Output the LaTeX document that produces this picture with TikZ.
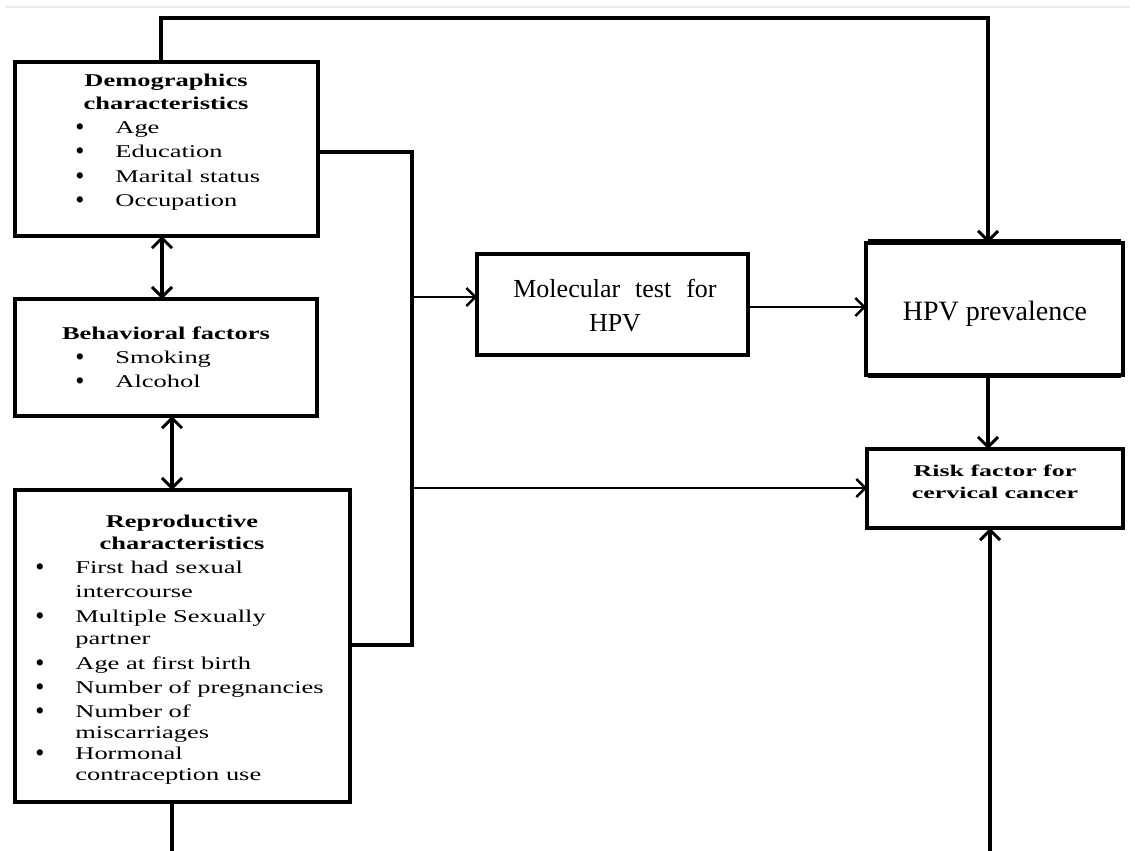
\documentclass[tikz,border=0pt]{standalone}
\usepackage{fontspec}
\setmainfont{Liberation Serif}
\newfontfamily\stfont[FakeStretch=1.47]{Liberation Serif}
\newfontfamily\rkfont[FakeStretch=1.58]{Liberation Serif}
\usetikzlibrary{arrows.meta}
\begin{document}
\begin{tikzpicture}[x=0.5pt,y=-0.5pt,
  box/.style={draw, line width=1.7pt, inner sep=0pt, outer sep=0pt},
  ln/.style={line width=1.7pt},
  varr/.style={line width=1.7pt, -{Straight Barb[length=5pt,width=10pt,line width=1.5pt]}},
  dbl/.style={line width=1.8pt, {Straight Barb[length=5pt,width=10pt,line width=1.5pt]}-{Straight Barb[length=5pt,width=10pt,line width=1.5pt]}},
  harr/.style={line width=1.3pt, -{Straight Barb[length=4.5pt,width=9pt,line width=1.2pt]}},
  item/.style={font=\stfont\fontsize{9}{11}\selectfont, inner sep=0pt, anchor=base west},
  bul/.style={font=\fontsize{13}{13}\selectfont, inner sep=0pt, anchor=base, yshift=-1.2pt},
  ttl/.style={font=\stfont\bfseries\fontsize{9}{11}\selectfont, inner sep=0pt, anchor=base},
  rk/.style={font=\rkfont\bfseries\fontsize{8.2}{10}\selectfont, inner sep=0pt, anchor=base},
  big/.style={font=\fontsize{13}{16}\selectfont, inner sep=0pt, anchor=base}
]
\useasboundingbox (0,0) rectangle (1135,851);
\draw[black!8, line width=0.8pt] (5,7) -- (1130,7);

% boxes
\node[box, minimum width=151.5pt, minimum height=87pt] (demo) at (166.5,149) {};
\node[box, minimum width=151pt, minimum height=58.5pt] (beh) at (166,357.5) {};
\node[box, minimum width=167.5pt, minimum height=156pt] (repro) at (182.5,646) {};
\node[box, line width=2.4pt, minimum width=135.5pt, minimum height=50.5pt] (mol) at (612.5,304.5) {};
\node[box, minimum width=128.5pt, minimum height=66pt] (hpv) at (994.5,309) {};
\node[box, minimum width=128pt, minimum height=39.5pt] (risk) at (995,488.5) {};
\draw[line width=0.8pt] (868,240) -- (1121,240);
\draw[line width=0.8pt] (868,377) -- (1121,377);

% demographics text
\node[ttl] (dt1) at (166,86) {Demographics};
\node[ttl] (dt2) at (166,109) {characteristics};
\node[bul] (db1) at (80,133) {\textbullet};
\node[item] (di1) at (115,133) {Age};
\node[bul] (db2) at (80,157) {\textbullet};
\node[item] (di2) at (115,157) {Education};
\node[bul] (db3) at (80,182) {\textbullet};
\node[item] (di3) at (115,182) {Marital status};
\node[bul] (db4) at (80,206) {\textbullet};
\node[item] (di4) at (115,206) {Occupation};

% behavioral text
\node[ttl] (bt1) at (166,339) {Behavioral factors};
\node[bul] (bb1) at (80,363) {\textbullet};
\node[item] (bi1) at (115,363) {Smoking};
\node[bul] (bb2) at (80,387) {\textbullet};
\node[item] (bi2) at (115,387) {Alcohol};

% reproductive text
\node[ttl] (rt1) at (182,527) {Reproductive};
\node[ttl] (rt2) at (182,549) {characteristics};
\node[bul] (rb1) at (40,573) {\textbullet};
\node[item] (ri1) at (75,573) {First had sexual};
\node[item] (ri1b) at (75,597) {intercourse};
\node[bul] (rb2) at (40,622) {\textbullet};
\node[item] (ri2) at (75,622) {Multiple Sexually};
\node[item] (ri2b) at (75,644) {partner};
\node[bul] (rb3) at (40,669) {\textbullet};
\node[item] (ri3) at (75,669) {Age at first birth};
\node[bul] (rb4) at (40,693) {\textbullet};
\node[item] (ri4) at (75,693) {Number of pregnancies};
\node[bul] (rb5) at (40,717) {\textbullet};
\node[item] (ri5) at (75,717) {Number of};
\node[item] (ri5b) at (75,738) {miscarriages};
\node[bul] (rb6) at (40,759) {\textbullet};
\node[item] (ri6) at (75,759) {Hormonal};
\node[item] (ri6b) at (75,780) {contraception use};

% right texts
\node[big] (mt1) at (615,297) {Molecular\hspace{7.5pt}test\hspace{7.5pt}for};
\node[big] (mt2) at (615,331) {HPV};
\node[big, font=\fontsize{14}{17}\selectfont] (ht) at (995,320) {HPV prevalence};
\node[rk] (rk1) at (995,476) {Risk factor for};
\node[rk] (rk2) at (995,498) {cervical cancer};

% connectors
\coordinate (tl) at (161,18);
\coordinate (tr) at (988,18);
\draw[varr] (demo.north -| tl) -- (tl) -- (tr) -- (hpv.north -| tr);
\coordinate (a1) at (162,0);
\draw[dbl] (demo.south -| a1) -- (beh.north -| a1);
\coordinate (a2) at (172,0);
\draw[dbl] (beh.south -| a2) -- (repro.north -| a2);
\coordinate (bot1) at (172,851);
\draw[ln] (repro.south -| bot1) -- (bot1);
\coordinate (j1) at (412,152);
\coordinate (j2) at (412,645);
\draw[ln] (demo.east |- j1) -- (j1) -- (j2) -- (repro.east |- j2);
\coordinate (m1) at (412,297);
\draw[harr] (m1) -- (mol.west |- m1);
\coordinate (m2) at (412,488);
\draw[harr] (m2) -- (risk.west |- m2);
\coordinate (m3) at (0,307);
\draw[harr] (mol.east |- m3) -- (hpv.west |- m3);
\draw[varr] (hpv.south -| tr) -- (risk.north -| tr);
\coordinate (bot2) at (990,851);
\draw[varr] (bot2) -- (risk.south -| bot2);
\end{tikzpicture}
\end{document}
